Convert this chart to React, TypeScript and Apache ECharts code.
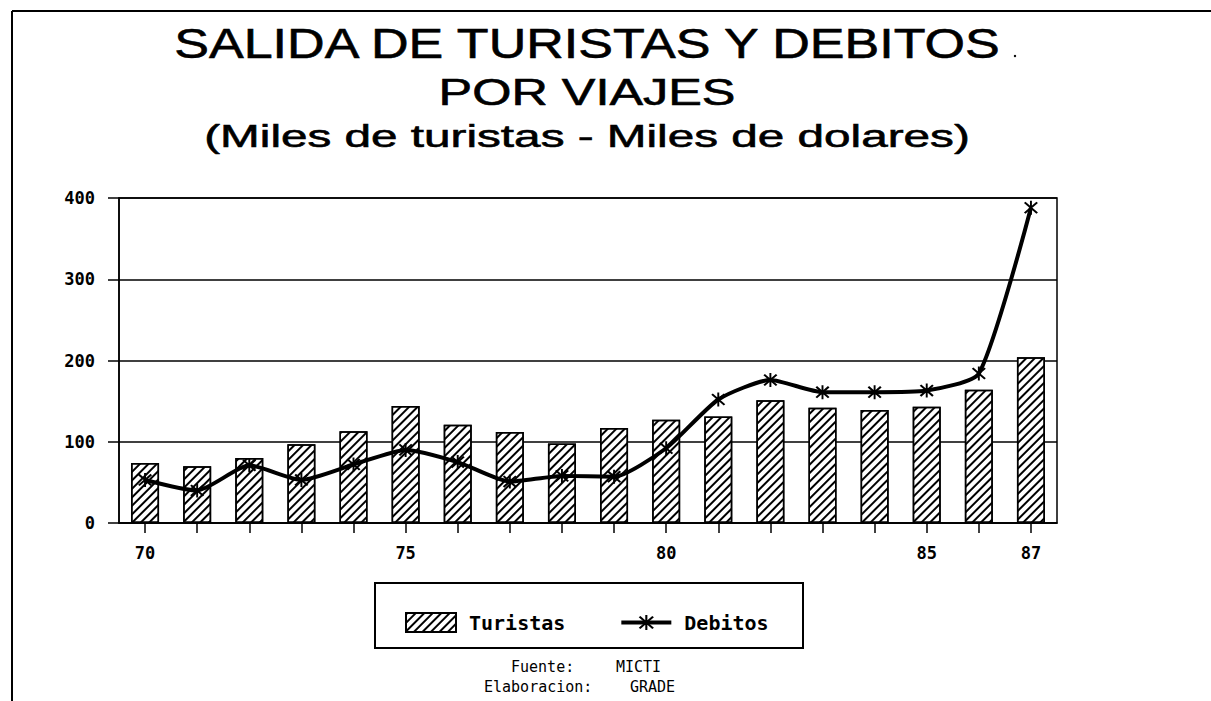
import React, { useEffect, useRef } from 'react';
import * as echarts from 'echarts';

const years = ['70', '71', '72', '73', '74', '75', '76', '77', '78', '79', '80', '81', '82', '83', '84', '85', '86', '87'];
const turistas = [74, 70, 80, 97, 113, 144, 121, 112, 98, 117, 127, 131, 151, 142, 139, 143, 164, 204];
const debitos = [53, 40, 71, 53, 72, 90, 75, 51, 58, 57, 92, 152, 176, 161, 161, 163, 184, 388];
const shownYearIdx = [0, 5, 10, 15, 17];
const titleLines = ['SALIDA DE TURISTAS Y DEBITOS', 'POR VIAJES', '(Miles de turistas - Miles de dolares)'];
const footerLabels = ['Fuente:', 'Elaboracion:'];
const footerValues = ['MICTI', 'GRADE'];

const asterisk =
  'path://M8.8 0 L11.2 0 L11.2 20 L8.8 20 Z M1.3 3.2 L3.2 1.3 L18.7 16.8 L16.8 18.7 Z M16.8 1.3 L18.7 3.2 L3.2 18.7 L1.3 16.8 Z';

export default function App() {
  const ref = useRef<HTMLDivElement>(null);
  useEffect(() => {
    const chart = echarts.init(ref.current!, null, { renderer: 'svg' });
    const mono = 'DejaVu Sans Mono';
    const titleText = (text: string, y: number, size: number, sx: number) => ({
      type: 'text',
      x: 587,
      y,
      scaleX: sx,
      style: {
        text,
        fontSize: size,
        fontWeight: 'normal',
        fontFamily: 'Liberation Sans',
        fill: '#000',
        stroke: '#000',
        lineWidth: 0.6,
        textAlign: 'center',
        textVerticalAlign: 'middle',
        align: 'center',
        verticalAlign: 'middle',
      },
    });
    const plain = (text: string, x: number, y: number) => ({
      type: 'text',
      x,
      y,
      style: {
        text,
        fontSize: 15,
        fontFamily: mono,
        fill: '#000',
        textAlign: 'left',
        textVerticalAlign: 'middle',
        align: 'left',
        verticalAlign: 'middle',
      },
    });
    chart.setOption({
      animation: false,
      backgroundColor: '#fff',
      grid: {
        left: 119,
        top: 198,
        width: 938,
        height: 325,
        show: true,
        borderColor: '#000',
        borderWidth: 1.5,
        backgroundColor: 'transparent',
      },
      xAxis: {
        type: 'category',
        data: years,
        boundaryGap: true,
        axisLine: { show: true, lineStyle: { color: '#000', width: 1.5 } },
        axisTick: { show: true, alignWithLabel: true, interval: 0, length: 10, lineStyle: { color: '#000', width: 1.5 } },
        axisLabel: {
          interval: (i: number) => shownYearIdx.includes(i),
          margin: 21,
          color: '#000',
          fontFamily: mono,
          fontWeight: 'bold',
          fontSize: 17,
        },
        splitLine: { show: false },
      },
      yAxis: {
        type: 'value',
        min: 0,
        max: 400,
        interval: 100,
        axisLine: { show: true, lineStyle: { color: '#000', width: 1.5 } },
        axisTick: { show: true, length: 11, lineStyle: { color: '#000', width: 1.5 } },
        axisLabel: { margin: 24, color: '#000', fontFamily: mono, fontWeight: 'bold', fontSize: 17 },
        splitLine: { show: true, lineStyle: { color: '#000', width: 1.5 } },
      },
      legend: {
        left: 400,
        top: 607,
        itemWidth: 50,
        itemHeight: 19,
        itemGap: 54,
        data: [
          { name: 'Turistas', icon: 'rect' },
          { name: 'Debitos', lineStyle: { width: 4, color: '#000' } },
        ],
        textStyle: { color: '#000', fontFamily: mono, fontWeight: 'bold', fontSize: 20, padding: [0, 0, 0, 8] },
      },
      graphic: [
        { type: 'line', shape: { x1: 12, y1: 11, x2: 1211, y2: 11 }, style: { stroke: '#000', lineWidth: 2 } },
        { type: 'line', shape: { x1: 12, y1: 11, x2: 12, y2: 701 }, style: { stroke: '#000', lineWidth: 2 } },
        titleText(titleLines[0], 43, 42, 1.24),
        { type: 'circle', shape: { cx: 1015, cy: 56, r: 1.2 }, style: { fill: '#000' } },
        titleText(titleLines[1], 92, 36, 1.4),
        titleText(titleLines[2], 136, 32, 1.49),
        {
          type: 'rect',
          shape: { x: 375, y: 583, width: 428, height: 65 },
          style: { fill: 'none', stroke: '#000', lineWidth: 2 },
        },
        plain(footerLabels[0], 511, 667),
        plain(footerValues[0], 616, 667),
        plain(footerLabels[1], 484, 687),
        plain(footerValues[1], 630, 687),
      ],
      series: [
        {
          name: 'Turistas',
          type: 'bar',
          data: turistas,
          barWidth: 28,
          itemStyle: {
            color: '#fff',
            borderColor: '#000',
            borderWidth: 1.5,
            decal: {
              symbol: 'rect',
              symbolSize: 1,
              dashArrayX: [1, 0],
              dashArrayY: [1.5, 3.2],
              rotation: -Math.PI / 4,
              color: '#000',
              backgroundColor: '#fff',
            },
          },
          z: 2,
        },
        {
          name: 'Debitos',
          type: 'line',
          data: debitos,
          smooth: 0.2,
          symbol: asterisk,
          symbolSize: 14,
          showSymbol: true,
          lineStyle: { color: '#000', width: 4 },
          itemStyle: { color: '#000' },
          z: 5,
        },
      ],
    });
    return () => chart.dispose();
  }, []);
  return (
    <div
      ref={ref}
      style={{ position: 'absolute', left: 0, top: 0, width: 1211, height: 701, background: '#fff' }}
    />
  );
}
